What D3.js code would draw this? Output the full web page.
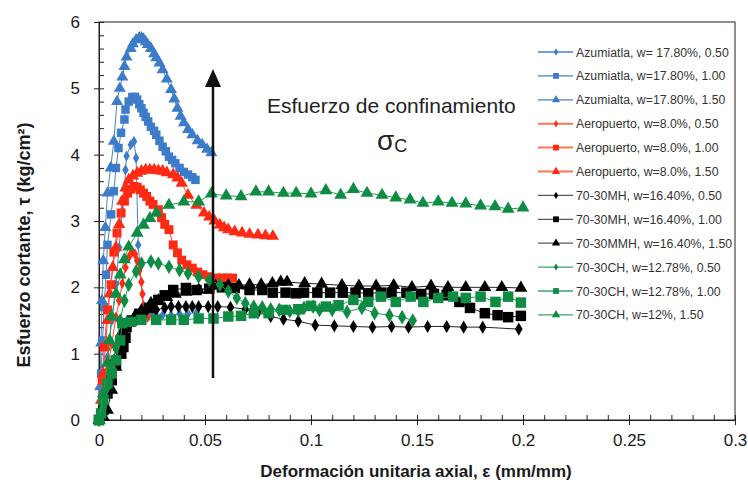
<!DOCTYPE html>
<html>
<head>
<meta charset="utf-8">
<script src="https://cdn.jsdelivr.net/npm/d3@7/dist/d3.min.js"></script>
<style>
  html, body { margin: 0; padding: 0; background: #fff; }
  svg { display: block; font-family: Arial, "Liberation Sans", sans-serif; }
</style>
</head>
<body>
<svg id="chart" width="748" height="483"></svg>
<script>
// Shear stress vs axial strain, triaxial tests at three confining pressures.
// Each series: [axial strain (mm/mm), shear stress (kg/cm²)]
const azu050 = [[0,0],[0.002,0.45],[0.004,0.95],[0.006,1.5],[0.008,2.05],[0.0095,2.6],[0.011,3.15],[0.012,3.5],[0.0125,3.77],[0.013,3.98],[0.015,4.15],[0.0165,4.2],[0.0175,3.95],[0.0185,2.64],[0.021,1.65],[0.025,1.6],[0.03,1.58],[0.034,1.58],[0.038,1.6],[0.042,1.6],[0.046,1.62]];
const azu100 = [[0,0],[0.001,0.7],[0.0017,1.2],[0.0024,1.7],[0.0033,2.19],[0.004,2.64],[0.0057,3.1],[0.007,3.45],[0.008,3.8],[0.0092,4.1],[0.0104,4.33],[0.012,4.53],[0.0125,4.68],[0.014,4.8],[0.0157,4.87],[0.017,4.87],[0.018,4.83],[0.019,4.76],[0.02,4.7],[0.021,4.63],[0.022,4.57],[0.0232,4.5],[0.0245,4.42],[0.026,4.36],[0.027,4.3],[0.0285,4.21],[0.03,4.12],[0.0315,4.05],[0.033,3.97],[0.0345,3.92],[0.036,3.87],[0.038,3.8],[0.04,3.74],[0.042,3.7],[0.044,3.66],[0.0455,3.62]];
const azu150 = [[0,0],[0.0005,0.5],[0.001,1.16],[0.0014,1.8],[0.002,2.4],[0.003,2.9],[0.004,3.42],[0.0055,3.8],[0.007,4.2],[0.0085,4.8],[0.0098,5.0],[0.011,5.17],[0.012,5.33],[0.013,5.47],[0.015,5.6],[0.016,5.67],[0.0175,5.73],[0.019,5.76],[0.02,5.76],[0.021,5.74],[0.022,5.7],[0.023,5.66],[0.0245,5.6],[0.026,5.52],[0.027,5.46],[0.0285,5.38],[0.03,5.28],[0.032,5.14],[0.034,4.98],[0.0355,4.84],[0.037,4.7],[0.0385,4.58],[0.04,4.48],[0.042,4.38],[0.044,4.3],[0.0465,4.21],[0.0487,4.15],[0.051,4.08],[0.053,4.03]];
const aero050 = [[0,0],[0.002,0.35],[0.004,0.75],[0.006,1.15],[0.008,1.55],[0.0095,1.8],[0.011,2.06],[0.0125,2.3],[0.014,2.45],[0.0155,2.53],[0.017,2.5],[0.018,2.4],[0.019,2.25],[0.02,2.08],[0.0205,1.9],[0.021,1.72],[0.022,1.6],[0.023,1.55]];
const aero100 = [[0,0],[0.0015,0.6],[0.0025,1.1],[0.004,1.66],[0.0057,2.04],[0.007,2.53],[0.0085,2.82],[0.0104,3.12],[0.012,3.3],[0.0135,3.42],[0.015,3.48],[0.0165,3.52],[0.018,3.51],[0.0195,3.47],[0.021,3.42],[0.0225,3.37],[0.024,3.3],[0.0255,3.25],[0.028,3.17],[0.0295,3.05],[0.031,2.95],[0.033,2.87],[0.035,2.64],[0.037,2.52],[0.039,2.41],[0.0415,2.34],[0.044,2.29],[0.0465,2.23],[0.049,2.19],[0.052,2.16],[0.055,2.14],[0.058,2.14],[0.0605,2.14],[0.063,2.14]];
const aero150 = [[0,0],[0.001,0.3],[0.002,0.7],[0.003,1.1],[0.004,1.5],[0.005,1.9],[0.0065,2.3],[0.008,2.6],[0.0095,2.95],[0.011,3.3],[0.0125,3.5],[0.014,3.62],[0.016,3.68],[0.018,3.72],[0.02,3.75],[0.022,3.77],[0.024,3.77],[0.026,3.77],[0.028,3.76],[0.03,3.75],[0.032,3.73],[0.035,3.7],[0.037,3.65],[0.039,3.57],[0.042,3.39],[0.046,3.24],[0.0495,3.12],[0.052,3.06],[0.0545,3.0],[0.057,2.94],[0.059,2.9],[0.061,2.87],[0.064,2.84],[0.0675,2.82],[0.071,2.8],[0.075,2.79],[0.0785,2.78],[0.082,2.77]];
const mh050 = [[0,0],[0.002,0.15],[0.004,0.4],[0.0057,0.68],[0.007,0.9],[0.008,1.1],[0.01,1.22],[0.012,1.31],[0.0145,1.45],[0.017,1.58],[0.022,1.63],[0.027,1.66],[0.031,1.69],[0.034,1.71],[0.0375,1.71],[0.041,1.71],[0.044,1.71],[0.047,1.71],[0.0515,1.71],[0.056,1.71],[0.062,1.7],[0.069,1.67],[0.075,1.62],[0.081,1.56],[0.087,1.52],[0.094,1.49],[0.102,1.43],[0.111,1.42],[0.12,1.41],[0.129,1.4],[0.138,1.41],[0.146,1.4],[0.155,1.41],[0.164,1.41],[0.172,1.4],[0.181,1.4],[0.198,1.37]];
const mh100 = [[0,0],[0.002,0.15],[0.004,0.4],[0.006,0.6],[0.008,0.85],[0.0105,1.0],[0.0115,1.1],[0.0125,1.24],[0.013,1.4],[0.0155,1.5],[0.019,1.6],[0.0236,1.69],[0.028,1.81],[0.031,1.88],[0.035,1.96],[0.041,1.99],[0.046,1.96],[0.052,1.98],[0.058,2.0],[0.064,1.99],[0.071,1.96],[0.077,1.96],[0.082,1.92],[0.088,1.92],[0.093,1.91],[0.0967,1.92],[0.103,1.92],[0.109,1.92],[0.115,1.92],[0.121,1.92],[0.127,1.91],[0.133,1.92],[0.138,1.92],[0.145,1.92],[0.152,1.9],[0.158,1.9],[0.164,1.88],[0.17,1.78],[0.175,1.69],[0.182,1.61],[0.188,1.58],[0.193,1.55],[0.199,1.57]];
const mmh150 = [[0,0],[0.002,0.05],[0.004,0.15],[0.006,0.45],[0.008,0.8],[0.0095,1.1],[0.011,1.33],[0.014,1.46],[0.017,1.55],[0.02,1.65],[0.0245,1.76],[0.028,1.8],[0.032,1.85],[0.036,1.9],[0.041,1.93],[0.047,1.96],[0.055,2.02],[0.061,2.03],[0.066,2.03],[0.071,2.04],[0.0765,2.04],[0.0818,2.06],[0.0857,2.08],[0.0887,2.08],[0.097,2.06],[0.105,2.05],[0.1146,2.03],[0.1226,2.02],[0.1307,2.02],[0.139,2.03],[0.1476,2.0],[0.1566,2.02],[0.1646,2.0],[0.173,2.0],[0.182,2.0],[0.19,2.0],[0.199,1.99]];
const ch050 = [[0,0],[0.002,0.2],[0.004,0.5],[0.006,0.8],[0.008,1.1],[0.01,1.5],[0.012,1.8],[0.014,2.04],[0.0175,2.24],[0.02,2.36],[0.0245,2.39],[0.028,2.36],[0.033,2.31],[0.038,2.26],[0.042,2.21],[0.047,2.16],[0.052,2.11],[0.057,2.04],[0.061,1.94],[0.065,1.84],[0.069,1.76],[0.073,1.71],[0.077,1.7],[0.081,1.67],[0.085,1.66],[0.09,1.64],[0.094,1.65],[0.0967,1.69],[0.101,1.71],[0.104,1.66],[0.11,1.66],[0.117,1.63],[0.124,1.69],[0.13,1.61],[0.137,1.58],[0.143,1.55],[0.148,1.5]];
const ch100 = [[0,0],[0.001,0.1],[0.002,0.3],[0.004,0.55],[0.006,0.7],[0.008,0.9],[0.01,1.2],[0.011,1.46],[0.015,1.48],[0.02,1.51],[0.027,1.51],[0.034,1.51],[0.04,1.51],[0.047,1.53],[0.054,1.53],[0.061,1.56],[0.067,1.57],[0.073,1.61],[0.08,1.61],[0.087,1.66],[0.094,1.67],[0.1,1.72],[0.107,1.71],[0.113,1.73],[0.12,1.81],[0.127,1.78],[0.133,1.86],[0.14,1.78],[0.147,1.86],[0.153,1.78],[0.16,1.84],[0.167,1.86],[0.173,1.84],[0.18,1.86],[0.187,1.78],[0.193,1.86],[0.199,1.77]];
const ch150 = [[0,0],[0.002,0.4],[0.004,0.86],[0.005,1.2],[0.006,1.56],[0.008,1.9],[0.01,2.19],[0.012,2.42],[0.014,2.61],[0.018,2.82],[0.021,2.94],[0.024,3.04],[0.027,3.12],[0.033,3.24],[0.04,3.29],[0.047,3.29],[0.053,3.41],[0.06,3.38],[0.067,3.37],[0.074,3.44],[0.08,3.44],[0.087,3.42],[0.093,3.42],[0.1,3.41],[0.107,3.46],[0.114,3.39],[0.12,3.48],[0.1264,3.42],[0.1335,3.39],[0.14,3.35],[0.1467,3.32],[0.1528,3.27],[0.16,3.29],[0.1665,3.27],[0.173,3.26],[0.18,3.23],[0.1868,3.22],[0.193,3.18],[0.2,3.2]];

const seriesNames = [
  "Azumiatla, w= 17.80%, 0.50", "Azumiatla, w=17.80%, 1.00", "Azumialta, w=17.80%, 1.50",
  "Aeropuerto, w=8.0%, 0.50", "Aeropuerto, w=8.0%, 1.00", "Aeropuerto, w=8.0%, 1.50",
  "70-30MH, w=16.40%, 0.50", "70-30MH, w=16.40%, 1.00", "70-30MMH, w=16.40%, 1.50",
  "70-30CH, w=12.78%, 0.50", "70-30CH, w=12.78%, 1.00", "70-30CH, w=12%, 1.50"
];
const seriesData = [azu050, azu100, azu150, aero050, aero100, aero150, mh050, mh100, mmh150, ch050, ch100, ch150];
const xTickValues = [0, 0.05, 0.1, 0.15, 0.2, 0.25, 0.3];
const yTickValues = [0, 1, 2, 3, 4, 5, 6];

// soil group -> colours; confining pressure -> marker shape
const groupColor = ["#3d7cc9", "#ff2a14", "#000000", "#0e8c43"];
const groupLine = ["#4a82c6", "#ff4a32", "#2a2222", "#22a058"];
const legendLine = ["#4a7fc4", "#ff7357", "#6a5550", "#3aa56a"];
const shapes = [d3.symbolDiamond, d3.symbolSquare, d3.symbolTriangle];
const markerSize = [
  [36, 72, 62],
  [36, 80, 66],
  [50, 110, 72],
  [62, 110, 72]
];

const svg = d3.select("#chart");
const x = d3.scaleLinear().domain([0, 0.3]).range([99, 735]);
const y = d3.scaleLinear().domain([0, 6]).range([420, 22]);
const axisColor = "#2b1d1a";

// plot frame
svg.append("rect")
  .attr("x", x(0)).attr("y", y(6))
  .attr("width", x(0.3) - x(0)).attr("height", y(0) - y(6))
  .attr("fill", "none").attr("stroke", axisColor).attr("stroke-width", 1);

// minor ticks (inside)
const xMinor = d3.range(0, 0.3001, 0.01);
const yMinor = d3.range(0, 6.001, 0.2);
svg.append("g").attr("transform", `translate(0,${y(0)})`)
  .call(d3.axisBottom(x).tickValues(xMinor).tickSize(-5).tickFormat(""))
  .call(g => g.select(".domain").remove());
svg.append("g").attr("transform", `translate(${x(0)},0)`)
  .call(d3.axisLeft(y).tickValues(yMinor).tickSize(-5).tickFormat(""))
  .call(g => g.select(".domain").remove());

// major ticks with labels
const xAxis = svg.append("g").attr("transform", `translate(0,${y(0)})`)
  .call(d3.axisBottom(x).tickValues(xTickValues).tickSize(5).tickPadding(9).tickFormat(d => d3.format("")(+d.toFixed(2))));
const yAxis = svg.append("g").attr("transform", `translate(${x(0)},0)`)
  .call(d3.axisLeft(y).tickValues(yTickValues).tickSize(5).tickPadding(14).tickFormat(d3.format("d")));
[xAxis, yAxis].forEach(g => {
  g.select(".domain").attr("stroke", axisColor);
  g.selectAll("text").attr("font-size", 17).attr("fill", "#1a1a1a").attr("font-family", "Arial, 'Liberation Sans', sans-serif");
});
svg.selectAll("g line").attr("stroke", axisColor);

// series
const line = d3.line().x(d => x(d[0])).y(d => y(d[1]));
const plot = svg.append("g");
seriesData.forEach((data, i) => {
  const grp = Math.floor(i / 3), sh = i % 3;
  plot.append("path").datum(data)
    .attr("d", line).attr("fill", "none")
    .attr("stroke", groupLine[grp]).attr("stroke-width", 1);
  plot.append("g").selectAll("path").data(data).join("path")
    .attr("transform", d => `translate(${x(d[0])},${y(d[1])})`)
    .attr("d", d3.symbol(shapes[sh], markerSize[grp][sh]))
    .attr("fill", groupColor[grp]);
});

// confining-pressure arrow and note
svg.append("line")
  .attr("x1", 213).attr("x2", 213).attr("y1", 378).attr("y2", 84)
  .attr("stroke", "#111").attr("stroke-width", 2.5);
svg.append("path")
  .attr("d", "M213,69 L221,87 L205,87 Z").attr("fill", "#111");
svg.append("text").attr("x", 267).attr("y", 113)
  .attr("font-size", 21).attr("fill", "#222").text("Esfuerzo de confinamiento");
const sig = svg.append("text").attr("x", 377).attr("y", 150).attr("fill", "#222");
sig.append("tspan").attr("font-size", 28).text("σ");
sig.append("tspan").attr("font-size", 18).attr("dy", 2).text("C");

// legend
const lg = svg.append("g");
seriesNames.forEach((name, i) => {
  const grp = Math.floor(i / 3), sh = i % 3;
  const cy = 52 + i * 23.9;
  lg.append("line").attr("x1", 538).attr("x2", 573).attr("y1", cy).attr("y2", cy)
    .attr("stroke", legendLine[grp]).attr("stroke-width", grp === 1 ? 2 : 1.3);
  lg.append("path").attr("transform", `translate(556,${cy})`)
    .attr("d", d3.symbol(shapes[sh], [16, 34, 30][sh])).attr("fill", groupColor[grp]);
  lg.append("text").attr("x", 576).attr("y", cy + 4.5)
    .attr("font-size", 12.3).attr("fill", "#333").text(name);
});

// axis titles
svg.append("text").attr("x", 416).attr("y", 477).attr("text-anchor", "middle")
  .attr("font-size", 17).attr("font-weight", "bold").attr("fill", "#1a1a1a")
  .text("Deformación unitaria axial, ε (mm/mm)");
svg.append("text").attr("transform", "translate(30,245) rotate(-90)").attr("text-anchor", "middle")
  .attr("font-size", 18).attr("font-weight", "bold").attr("fill", "#1a1a1a")
  .text("Esfuerzo cortante, τ (kg/cm²)");
</script>
</body>
</html>
